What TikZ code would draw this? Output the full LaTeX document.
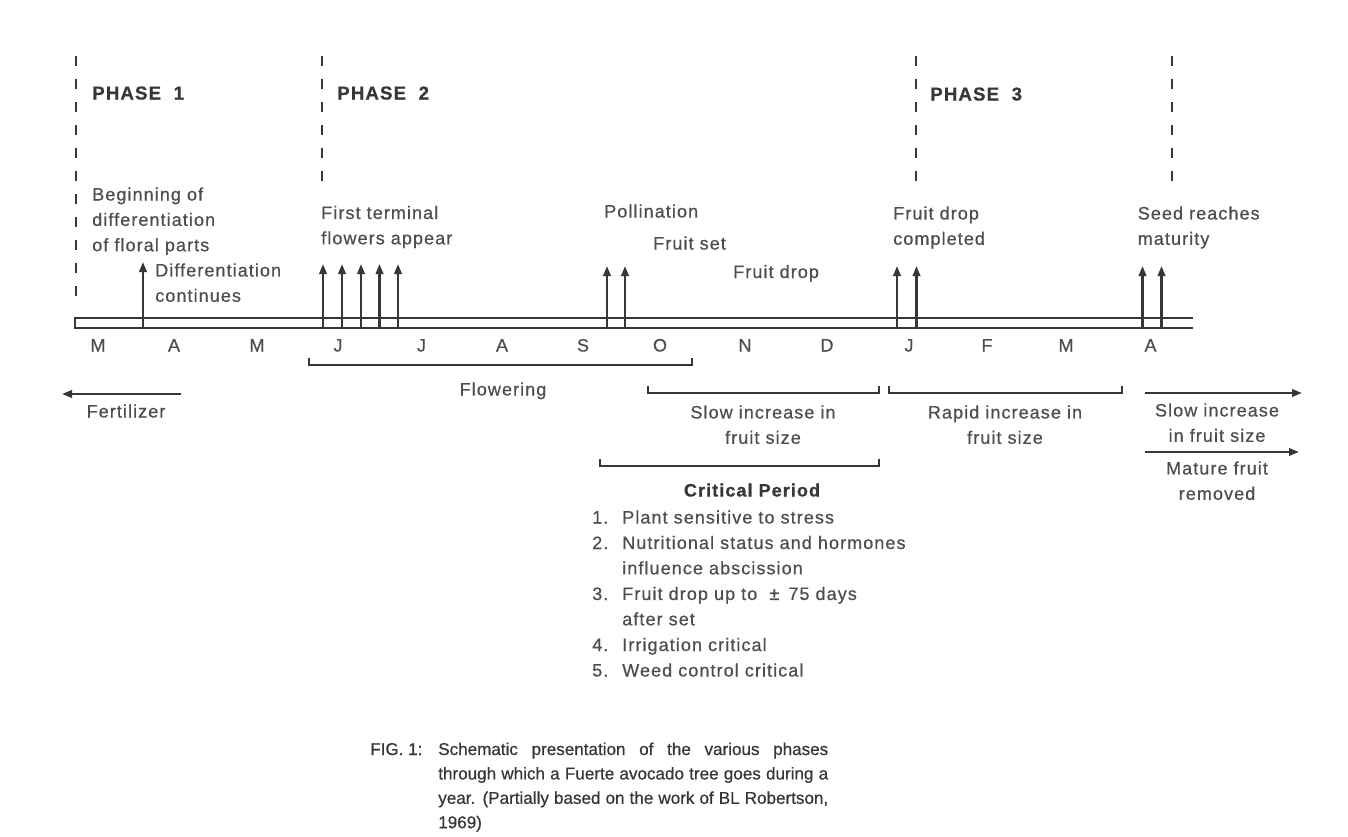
\documentclass[tikz,border=0pt]{standalone}
\usepackage{fontspec}
\setmainfont{Liberation Sans}[LetterSpace=6, FakeBold=0.6]
\newfontfamily\capfont{Liberation Sans}[FakeBold=0.6]
\usetikzlibrary{arrows.meta}
\definecolor{ink}{RGB}{55,55,55}
\definecolor{txt}{RGB}{78,78,78}
\begin{document}
\begin{tikzpicture}[x=0.75pt,y=-0.75pt,
  lbl/.style={inner sep=0pt, text=txt, font=\fontsize{13.5}{19}\selectfont, align=left, anchor=base west},
  clbl/.style={inner sep=0pt, text=txt, font=\fontsize{13.5}{19}\selectfont, align=center, anchor=base},
  hdr/.style={inner sep=0pt, text=ink, font=\fontsize{14}{19}\selectfont\bfseries, anchor=base west},
  phaseline/.style={draw=ink, line width=2.2pt, dash pattern=on 7.5pt off 9.75pt},
  barline/.style={draw=ink, line width=1.9pt},
  uparrow/.style={draw=ink, line width=1.7pt, -{Triangle[length=7.5pt,width=5.6pt]}},
  brk/.style={draw=ink, line width=1.8pt},
]
\useasboundingbox[fill=white] (0,0) rectangle (1348,836);

% phase boundaries
\coordinate (p1a) at (76,56);   \coordinate (p1b) at (76,303);
\coordinate (p2a) at (322,56);  \coordinate (p2b) at (322,188);
\coordinate (p3a) at (916,56);  \coordinate (p3b) at (916,188);
\coordinate (p4a) at (1172,56); \coordinate (p4b) at (1172,188);
\draw[phaseline] (p1a) -- (p1b);
\draw[phaseline] (p2a) -- (p2b);
\draw[phaseline] (p3a) -- (p3b);
\draw[phaseline] (p4a) -- (p4b);

\node[hdr] (ph1) at (92,99.5) {PHASE\ \ 1};
\node[hdr] (ph2) at (337,99.5) {PHASE\ \ 2};
\node[hdr] (ph3) at (930,100.5) {PHASE\ \ 3};

% time bar
\draw[barline] (1193,318) -- (75,318) -- (75,328) -- (1193,328);

% event arrows
\foreach \n/\x/\t in {a/143/262, b/323/264, c/342/264, d/361/264, e/379.5/264, f/398/264,
                      g/607/266, h/625/266, i/897/266, j/916.5/266, k/1142.5/266, l/1161.5/266}{
  \coordinate (s\n) at (\x,328);
  \coordinate (e\n) at (\x,\t);
  \draw[uparrow] (s\n) -- (e\n);
}

% event labels (base = baseline of the last line)
\node[lbl] (beg) at (92,251.2) {Beginning of\\differentiation\\of floral parts};
\node[lbl] (dif) at (155,301.8) {Differentiation\\continues};
\node[lbl] (fir) at (321,244.3) {First terminal\\flowers appear};
\node[lbl] (pol) at (604,217.5) {Pollination};
\node[lbl] (set) at (653,249.5) {Fruit set};
\node[lbl] (drp) at (733,278) {Fruit drop};
\node[lbl] (cmp) at (893,244.8) {Fruit drop\\completed};
\node[lbl] (sed) at (1137.5,244.8) {Seed reaches\\maturity};

% months
\foreach \m/\x [count=\i] in {M/98, A/174, M/257, J/338, J/421.5, A/502, S/583, O/660,
                              N/745, D/827, J/909, F/987, M/1066, A/1150.5}{
  \node[clbl] (mon\i) at (\x,351.5) {\m};
}

% flowering
\draw[brk] (309,358) -- (309,365) -- (692,365) -- (692,358);
\node[clbl] (flw) at (503,395.5) {Flowering};

% fertilizer
\coordinate (fa) at (181,394); \coordinate (fb) at (62,394);
\draw[uparrow] (fa) -- (fb);
\node[clbl] (fer) at (126,417.5) {Fertilizer};

% fruit size periods
\draw[brk] (648,386) -- (648,393) -- (879,393) -- (879,386);
\node[clbl] (slw) at (763,443.8) {Slow increase in\\fruit size};
\draw[brk] (889,386) -- (889,393) -- (1122,393) -- (1122,386);
\node[clbl] (rap) at (1005,443.8) {Rapid increase in\\fruit size};

\coordinate (ra) at (1145,393); \coordinate (rb) at (1302,393);
\draw[uparrow] (ra) -- (rb);
\node[clbl] (slw2) at (1217,441.8) {Slow increase\\in fruit size};
\coordinate (rc) at (1145,452); \coordinate (rd) at (1299,452);
\draw[uparrow] (rc) -- (rd);
\node[clbl] (mat) at (1217,499.8) {Mature fruit\\removed};

% critical period
\draw[brk] (600,459) -- (600,466) -- (879,466) -- (879,459);
\node[inner sep=0pt, text=ink, font=\fontsize{13.5}{19}\selectfont\bfseries, anchor=base] (crit) at (752,496.5) {Critical Period};

\node[lbl] (n1) at (592,523.5) {1.};
\node[lbl] (c1) at (622,523.5) {Plant sensitive to stress};
\node[lbl] (n2) at (592,549) {2.};
\node[lbl] (c2) at (622,574.3) {Nutritional status and hormones\\influence abscission};
\node[lbl] (n3) at (592,600) {3.};
\node[lbl] (c3) at (622,625.3) {Fruit drop up to \ ± \,75 days\\after set};
\node[lbl] (n4) at (592,651) {4.};
\node[lbl] (c4) at (622,651) {Irrigation critical};
\node[lbl] (n5) at (592,676.5) {5.};
\node[lbl] (c5) at (622,676.5) {Weed control critical};

% caption
\node[inner sep=0pt, text=ink, font=\capfont\fontsize{12.8}{18.3}\selectfont, anchor=base west] (fig) at (370,755) {FIG. 1:};
\node[inner sep=0pt, text=ink, font=\capfont\fontsize{12.8}{18.3}\selectfont, align=left, anchor=base west] (cap) at (438,828.2)
 {\makebox[292.5pt][s]{Schematic presentation of the various phases}\\
  \makebox[292.5pt][s]{through which a Fuerte avocado tree goes during a}\\
  \makebox[292.5pt][s]{year. (Partially based on the work of BL Robertson,}\\
  1969)};
\end{tikzpicture}
\end{document}
